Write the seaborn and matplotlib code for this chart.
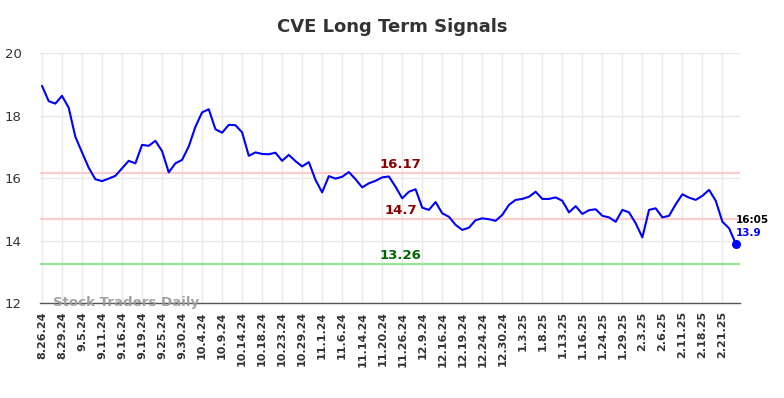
import numpy as np
import pandas as pd
import matplotlib
matplotlib.use('Agg')
import matplotlib.pyplot as plt
import seaborn as sns

# daily closes (105 sessions, 3 per tick label)
prices = [
    18.95, 18.46, 18.38, 18.63, 18.25, 17.32, 16.82, 16.33, 15.96, 15.90,
    15.98, 16.07, 16.31, 16.55, 16.47, 17.06, 17.03, 17.19, 16.86, 16.18,
    16.47, 16.58, 17.01, 17.64, 18.10, 18.20, 17.56, 17.45, 17.70, 17.69,
    17.46, 16.71, 16.82, 16.77, 16.76, 16.81, 16.55, 16.74, 16.54, 16.37,
    16.51, 15.94, 15.54, 16.06, 15.98, 16.04, 16.19, 15.96, 15.70, 15.83,
    15.91, 16.02, 16.05, 15.72, 15.35, 15.56, 15.64, 15.05, 14.98, 15.23,
    14.87, 14.76, 14.50, 14.34, 14.41, 14.65, 14.71, 14.68, 14.63, 14.82,
    15.14, 15.30, 15.33, 15.40, 15.56, 15.33, 15.33, 15.38, 15.27, 14.90,
    15.10, 14.85, 14.97, 15.00, 14.79, 14.74, 14.60, 14.98, 14.90, 14.55,
    14.10, 14.98, 15.03, 14.74, 14.79, 15.16, 15.48, 15.37, 15.30, 15.43,
    15.62, 15.27, 14.60, 14.39, 13.90,
]
tick_labels = [
    '8.26.24', '8.29.24', '9.5.24', '9.11.24', '9.16.24', '9.19.24', '9.25.24',
    '9.30.24', '10.4.24', '10.9.24', '10.14.24', '10.18.24', '10.23.24',
    '10.29.24', '11.1.24', '11.6.24', '11.14.24', '11.20.24', '11.26.24',
    '12.9.24', '12.16.24', '12.19.24', '12.24.24', '12.30.24', '1.3.25',
    '1.8.25', '1.13.25', '1.16.25', '1.24.25', '1.29.25', '2.3.25', '2.6.25',
    '2.11.25', '2.18.25', '2.21.25',
]
resistance = 16.17
middle = 14.7
support = 13.26
last_time = '16:05'

df = pd.DataFrame({'idx': np.arange(len(prices)), 'price': prices})

sns.set_style('white')
fig = plt.figure(figsize=(7.84, 3.98), dpi=100)
ax = fig.add_axes([0.051, 0.2387, 0.893, 0.6281])

ax.set_xlim(-0.3, len(prices) - 1 + 0.65)
ax.set_ylim(12, 20)
ax.set_yticks([12, 14, 16, 18, 20])
ax.set_xticks(np.arange(0, len(prices), 3))
ax.set_xticklabels(tick_labels, rotation=90, fontsize=8, fontweight='bold',
                   color='#333333', family='DejaVu Sans')
ax.tick_params(axis='y', labelsize=9.5, colors='#333333', length=0, pad=13)
ax.tick_params(axis='x', length=0, pad=6)
ax.grid(True, color='#e8e8e8', linewidth=1)
ax.set_axisbelow(True)
for s in ['top', 'right', 'left']:
    ax.spines[s].set_visible(False)
ax.spines['bottom'].set_color('#555555')
ax.spines['bottom'].set_linewidth(1)

ax.axhline(resistance, color='#ffcccc', lw=1.5, zorder=1)
ax.axhline(middle, color='#ffcccc', lw=1.5, zorder=1)
ax.axhline(support, color='#90e890', lw=1.5, zorder=1)

sns.lineplot(data=df, x='idx', y='price', ax=ax, color='#0000ff', lw=1.5, zorder=3)
ax.scatter([df['idx'].iloc[-1]], [prices[-1]], color='#0000ff', s=30, zorder=4)
ax.set_xlabel('')
ax.set_ylabel('')

mid_x = 53.8
for val, col in [(resistance, '#8b0000'), (middle, '#8b0000'), (support, '#006400')]:
    ax.text(mid_x, val + 0.25, f'{val}', color=col, fontsize=9.5,
            fontweight='bold', ha='center', va='center')

ax.text(len(prices) - 1, prices[-1] + 0.76, last_time, color='black', fontsize=7.5,
        fontweight='bold', ha='left', va='center')
ax.text(len(prices) - 1, prices[-1] + 0.34, f'{prices[-1]}', color='#0000ff', fontsize=7.5,
        fontweight='bold', ha='left', va='center')

ax.text(1.7, 12.03, 'Stock Traders Daily', color='#999999', fontsize=9.6,
        fontweight='bold', ha='left', va='center', alpha=0.9)

fig.suptitle('CVE Long Term Signals', x=0.5, y=0.955, fontsize=13,
             fontweight='bold', color='#333333')

fig.savefig('out.png', dpi=100)
